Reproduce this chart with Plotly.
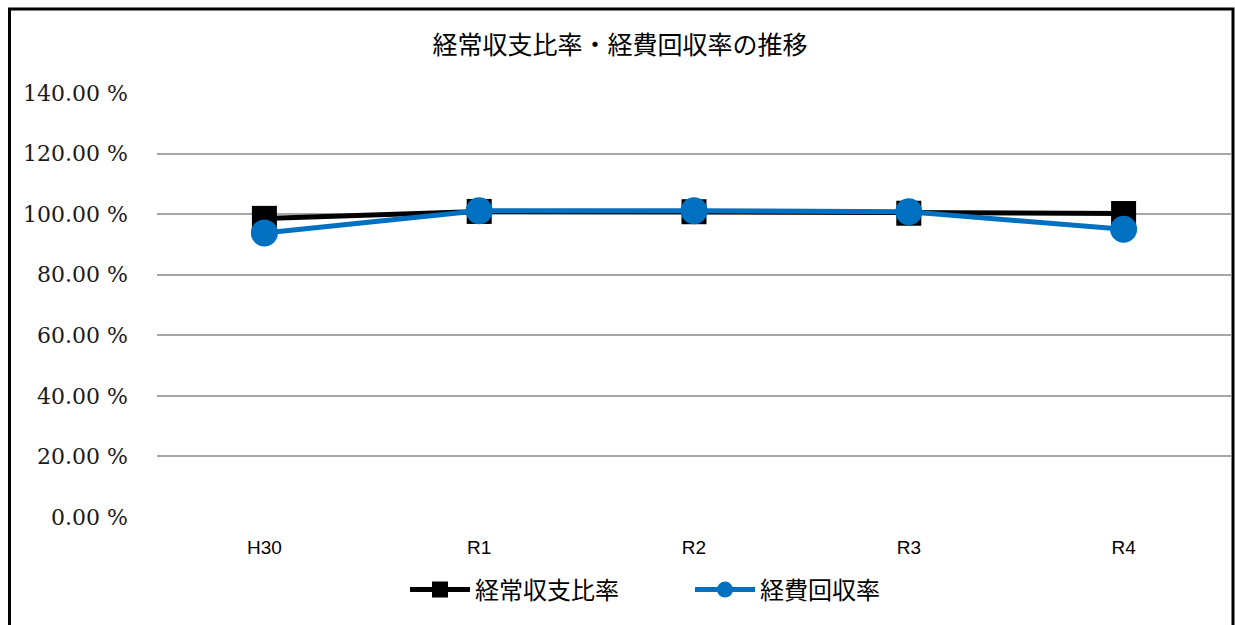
import plotly.graph_objects as go

categories = ["H30", "R1", "R2", "R3", "R4"]
keijo = [98.6, 100.9, 100.8, 100.3, 100.2]
keihi = [93.8, 101.1, 101.1, 100.8, 95.0]
series_names = ["経常収支比率", "経費回収率"]
title_text = "経常収支比率・経費回収率の推移"
y_ticks = [0, 20, 40, 60, 80, 100, 120, 140]
y_tick_labels = ["0.00 %", "20.00 %", "40.00 %", "60.00 %", "80.00 %",
                 "100.00 %", "120.00 %", "140.00 %"]

W, H = 1235, 625
L, R, T, B = 157, 1231, 93, 517

fig = go.Figure()
fig.add_trace(go.Scatter(
    x=categories, y=keijo, name=series_names[0], mode="lines+markers",
    line=dict(color="#000000", width=5),
    marker=dict(symbol="square", size=25, color="#000000"),
))
fig.add_trace(go.Scatter(
    x=categories, y=keihi, name=series_names[1], mode="lines+markers",
    line=dict(color="#0070C0", width=5),
    marker=dict(symbol="circle", size=27, color="#0070C0"),
))

def px_x(p):
    return (p - L) / (R - L)

def px_y(p):
    return (B - p) / (B - T)

fig.update_layout(
    width=W, height=H,
    margin=dict(l=L, r=W - R, t=T, b=H - B, autoexpand=False),
    paper_bgcolor="white", plot_bgcolor="white",
    title=dict(text=title_text, x=620 / W, xref="container", xanchor="center",
               y=1 - 45 / H, yref="container", yanchor="middle",
               font=dict(family="Noto Sans CJK JP", size=25, color="#000000")),
    showlegend=True,
    legend=dict(orientation="h", x=px_x(405), xanchor="left",
                y=px_y(590), yanchor="middle",
                font=dict(family="Noto Sans CJK JP", size=24, color="#000000"),
                itemwidth=60, tracegroupgap=0, entrywidthmode="pixels", entrywidth=210),
    xaxis=dict(range=[-0.5, 4.5], showgrid=False, zeroline=False, showline=False, ticks="",
               tickfont=dict(family="Liberation Sans", size=19, color="#000000"),
               ticklabelstandoff=17),
    yaxis=dict(range=[0, 140], tickvals=y_ticks, ticktext=y_tick_labels,
               showgrid=True, gridcolor="#A6A6A6", gridwidth=2,
               zeroline=False, showline=False, ticks="",
               tickfont=dict(family="DejaVu Serif", size=22, color="#1a1a1a"),
               ticklabelstandoff=28),
    shapes=[dict(type="rect", xref="paper", yref="paper",
                 x0=px_x(9.5), x1=px_x(1233), y0=px_y(640), y1=px_y(9),
                 line=dict(color="#000000", width=3), fillcolor="rgba(0,0,0,0)",
                 layer="above")],
)

fig.write_html("out.html", config={"displayModeBar": False},
               post_script="document.body.style.margin='0';document.body.style.overflow='hidden';")
